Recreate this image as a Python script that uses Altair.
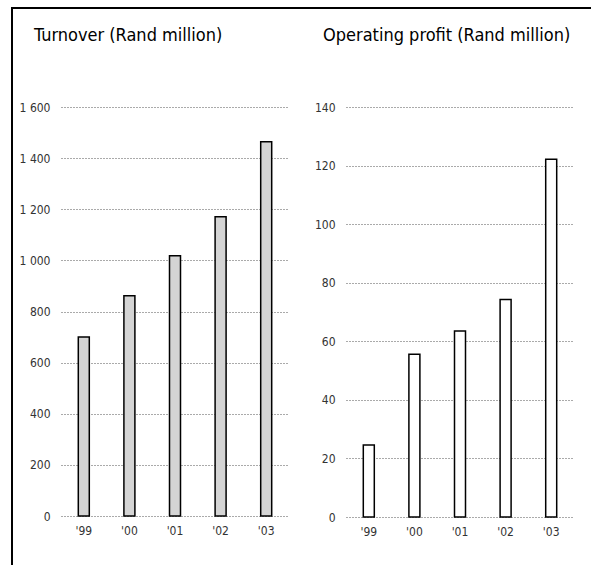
import altair as alt
import pandas as pd

years = ["'99", "'00", "'01", "'02", "'03"]
turnover = [700, 862, 1018, 1171, 1464]
profit = [24.6, 55.6, 63.5, 74.3, 122.2]

turnover_ticks = [0, 200, 400, 600, 800, 1000, 1200, 1400, 1600]
profit_ticks = [0, 20, 40, 60, 80, 100, 120, 140]

title_left = "Turnover (Rand million)"
title_right = "Operating profit (Rand million)"

FONT = "DejaVu Sans Condensed, Roboto, sans-serif"

df_t = pd.DataFrame({"year": years, "value": turnover})
df_p = pd.DataFrame({"year": years, "value": profit})
one = pd.DataFrame({"a": [0]})


def panel(df, ticks, fill, height, title, title_dx, frame_left):
    xenc = alt.X(
        "year:N", sort=years,
        scale=alt.Scale(paddingInner=0, paddingOuter=0),
        axis=alt.Axis(title=None, labelAngle=0, ticks=False, domain=False, grid=False,
                      labelPadding=9, labelFont=FONT, labelFontSize=12, labelColor="#333333"),
    )
    yenc = alt.Y(
        "value:Q",
        scale=alt.Scale(domain=[ticks[0], ticks[-1]], nice=False, zero=True),
        axis=alt.Axis(title=None, values=ticks, grid=True, gridDash=[1, 2], gridColor="#555555",
                      gridWidth=1, domain=False, ticks=False, labelPadding=11,
                      labelFont=FONT, labelFontSize=12, labelColor="#333333",
                      labelExpr="replace(format(datum.value, ','), ',', ' ')"),
    )
    bars = alt.Chart(df).mark_bar(size=11, fill=fill, stroke="black", strokeWidth=1.5).encode(
        x=xenc, y=yenc
    )
    ttl = alt.Chart(pd.DataFrame({"t": [title]})).mark_text(
        align="left", baseline="alphabetic", font=FONT, fontSize=18, color="black"
    ).encode(x=alt.value(title_dx), y=alt.value(-66), text="t:N")
    layers = [bars, ttl]
    if frame_left:
        vline = alt.Chart(one).mark_rule(color="black", strokeWidth=2).encode(
            x=alt.value(-49), x2=alt.value(-49), y=alt.value(-99), y2=alt.value(460)
        )
        hline = alt.Chart(one).mark_rule(color="black", strokeWidth=2).encode(
            x=alt.value(-50), x2=alt.value(530), y=alt.value(-99), y2=alt.value(-99)
        )
        layers += [vline, hline]
    return alt.layer(*layers).properties(width=228, height=height)


left = panel(df_t, turnover_ticks, "#d4d4d4", 409, title_left, -27, True)
right = panel(df_p, profit_ticks, "white", 410, title_right, -23, False)

chart = alt.hconcat(left, right, spacing=57, bounds="flush").properties(
    padding={"left": 10, "top": 7, "right": 0, "bottom": 0},
    background="white",
).configure_view(strokeWidth=0, stroke="transparent")

chart.save("out.html", embed_options={"renderer": "svg", "actions": False})
